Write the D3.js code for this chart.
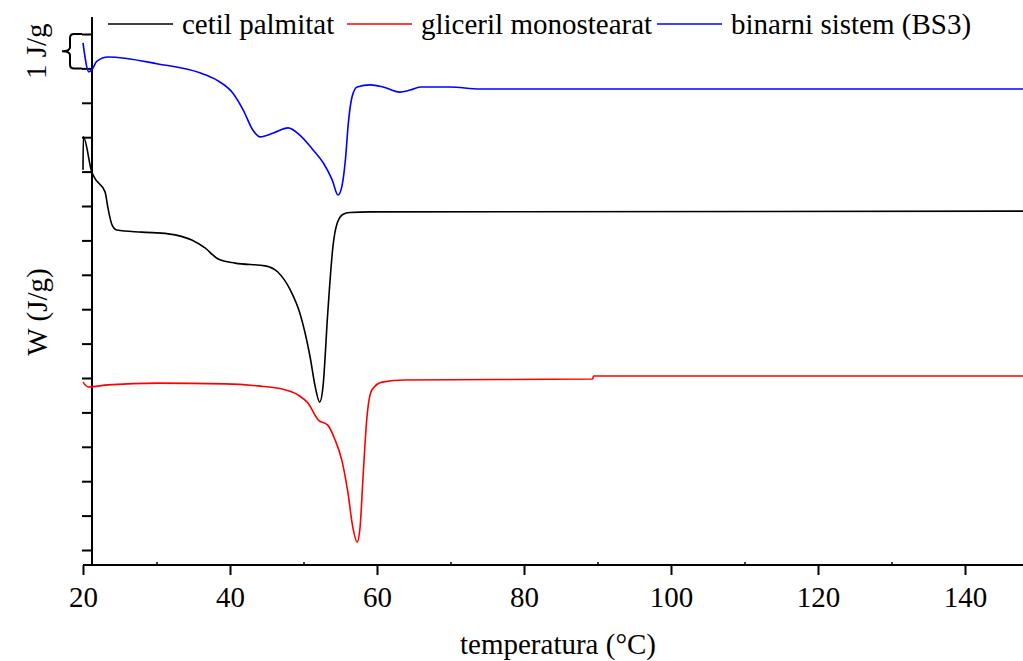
<!DOCTYPE html>
<html>
<head>
<meta charset="utf-8">
<script src="https://cdn.jsdelivr.net/npm/d3@7"></script>
<style>
    body { margin: 0; background: #fff; }
</style>
</head>
<body>
<div id="grafico"></div>
<script>
// temperatura (C) i W (J/g), procitano sa slike
var cetilT = [20.0, 20.05, 21.2, 21.6, 23.0, 23.4, 23.95, 24.6, 28.0, 31.6, 34.8, 36.6, 38.4, 40.7, 44.8, 46.5, 48.2, 49.5, 50.9, 51.6, 52.2, 52.65, 53.3, 54.0, 54.6, 55.4, 56.3, 59.1, 148.0];
var cetilW = [11.05, 12.01, 10.99, 10.81, 10.41, 9.94, 9.45, 9.30, 9.24, 9.19, 9.01, 8.78, 8.46, 8.34, 8.26, 8.08, 7.56, 6.89, 5.61, 4.74, 4.30, 4.74, 6.89, 8.81, 9.51, 9.76, 9.81, 9.83, 9.85];

var gliceT = [20.0, 20.7, 23.4, 30.2, 39.3, 43.8, 47.1, 49.25, 50.6, 52.0, 53.3, 54.3, 55.2, 56.05, 56.7, 57.3, 57.7, 58.1, 58.6, 59.3, 60.7, 63.8, 89.35, 89.45, 148.0];
var gliceW = [4.88, 4.74, 4.80, 4.85, 4.83, 4.77, 4.68, 4.51, 4.27, 3.78, 3.63, 3.20, 2.62, 1.66, 0.67, 0.23, 0.67, 2.12, 3.78, 4.65, 4.88, 4.94, 4.97, 5.06, 5.06];

var binarT = [20.0, 20.8, 21.2, 21.9, 23.4, 30.2, 35.9, 38.2, 40.4, 41.8, 43.1, 44.1, 45.9, 47.9, 49.5, 51.3, 52.7, 53.9, 54.7, 55.2, 55.7, 56.1, 56.6, 57.3, 59.1, 60.8, 63.1, 64.5, 65.9, 69.9, 74.0, 148.0];
var binarW = [14.74, 13.90, 13.96, 14.21, 14.33, 14.13, 13.87, 13.66, 13.28, 12.79, 12.21, 12.01, 12.12, 12.27, 12.06, 11.63, 11.25, 10.76, 10.32, 10.55, 11.34, 12.41, 13.17, 13.46, 13.52, 13.46, 13.31, 13.37, 13.46, 13.46, 13.40, 13.40];

var xTicks = [20, 40, 60, 80, 100, 120, 140];
var xMinor = [30, 50, 70, 90, 110, 130];
var yTicks = [0, 1, 2, 3, 4, 5, 6, 7, 8, 9, 10, 11, 12, 13, 14, 15];

var nazivi = ["cetil palmitat", "gliceril monostearat", "binarni sistem (BS3)"];
var boje = ["#000000", "#ff0000", "#0000ff"];

var W = 1023, H = 661;
var osY = 92, osX = 565, vrh = 17, desno = 1023;
var font = "'Liberation Serif', 'DejaVu Serif', serif";

var svg = d3.select("#grafico").append("svg")
    .attr("width", W)
    .attr("height", H);

var x = d3.scaleLinear().domain([20, 140]).range([83, 965]);
var y = d3.scaleLinear().domain([0, 15]).range([550, 34]);

// x osa
var gx = svg.append("g").attr("transform", "translate(0," + osX + ")");
gx.call(d3.axisBottom(x).tickValues(xTicks).tickSize(10).tickSizeOuter(0).tickPadding(6));
gx.attr("font-size", null).attr("font-family", null);
gx.select(".domain").remove();
gx.selectAll(".tick line").attr("stroke-width", 2);
gx.selectAll(".tick text")
    .style("font-family", font)
    .style("font-size", "29px")
    .attr("fill", "#000")
    .attr("dy", "0.9em");
gx.append("line")
    .attr("x1", x(20)).attr("x2", desno)
    .attr("stroke", "#000").attr("stroke-width", 2);

var gxm = svg.append("g").attr("transform", "translate(0," + osX + ")");
gxm.call(d3.axisTop(x).tickValues(xMinor).tickSize(3).tickFormat(""));
gxm.select(".domain").remove();
gxm.selectAll(".tick line").attr("stroke-width", 1.5);

// y osa
var gy = svg.append("g").attr("transform", "translate(" + osY + ",0)");
gy.call(d3.axisLeft(y).tickValues(yTicks).tickSize(10).tickFormat(""));
gy.select(".domain").remove();
gy.selectAll(".tick line").attr("stroke-width", 2);
gy.append("line")
    .attr("y1", vrh).attr("y2", osX)
    .attr("stroke", "#000").attr("stroke-width", 2);

// viticasta zagrada za 1 J/g
var y1 = y(15), y2 = y(14), ym = (y1 + y2) / 2;
svg.append("path")
    .attr("d", "M82," + y1 + "H74Q70," + y1 + " 70," + (y1 + 4) + "V" + (ym - 4) + "Q70," + ym + " 62," + ym +
        "Q70," + ym + " 70," + (ym + 4) + "V" + (y2 - 4) + "Q70," + y2 + " 74," + y2 + "H82")
    .attr("fill", "none")
    .attr("stroke", "#000")
    .attr("stroke-width", 2);

svg.append("text")
    .attr("transform", "translate(46," + ym + ")rotate(-90)")
    .attr("text-anchor", "middle")
    .style("font-family", font)
    .style("font-size", "29px")
    .text("1 J/g");

svg.append("text")
    .attr("transform", "translate(47,312)rotate(-90)")
    .attr("text-anchor", "middle")
    .style("font-family", font)
    .style("font-size", "29px")
    .text("W (J/g)");

svg.append("text")
    .attr("x", 558)
    .attr("y", 654)
    .attr("text-anchor", "middle")
    .style("font-family", font)
    .style("font-size", "29px")
    .text("temperatura (\u00B0C)");

// krive
var linija = d3.line()
    .x(function(d) { return x(d[0]); })
    .y(function(d) { return y(d[1]); })
    .curve(d3.curveMonotoneX);

var serije = [d3.zip(cetilT, cetilW), d3.zip(gliceT, gliceW), d3.zip(binarT, binarW)];

svg.selectAll(".kriva")
    .data(serije)
    .enter().append("path")
    .attr("class", "kriva")
    .attr("d", linija)
    .attr("fill", "none")
    .attr("stroke", function(d, i) { return boje[i]; })
    .attr("stroke-width", 1.6);

// legenda
var legX = [108, 347, 657];
var leg = svg.selectAll(".leg")
    .data(nazivi)
    .enter().append("g")
    .attr("class", "leg")
    .attr("transform", function(d, i) { return "translate(" + legX[i] + ",24)"; });

leg.append("line")
    .attr("x1", 0).attr("x2", 65)
    .attr("stroke", function(d, i) { return boje[i]; })
    .attr("stroke-width", 1.6);

leg.append("text")
    .attr("x", 74)
    .attr("dy", "0.33em")
    .style("font-family", font)
    .style("font-size", "29px")
    .text(function(d) { return d; });
</script>
</body>
</html>
